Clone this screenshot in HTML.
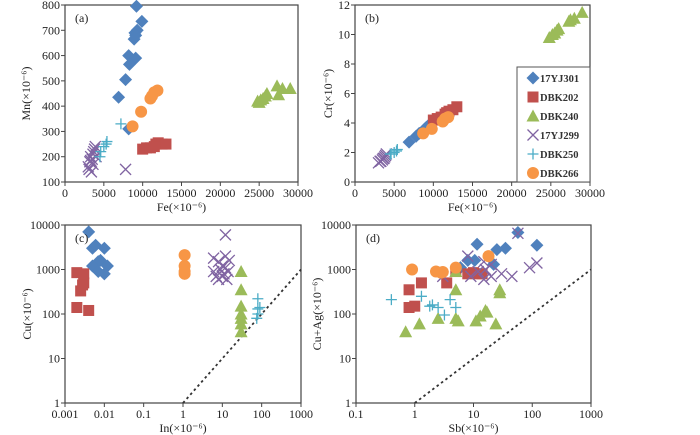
<!DOCTYPE html>
<html><head><meta charset="utf-8">
<style>
body{margin:0;background:#fff;}
svg{display:block;font-family:"Liberation Serif",serif;}
</style></head>
<body>
<svg id="c" width="700" height="435" viewBox="0 0 700 435"></svg>
<script>
// ---------- data ----------
const seriesNames = ["17YJ301","DBK202","DBK240","17YJ299","DBK250","DBK266"];
const seriesColors = ["#4f81bd","#c0504d","#9bbb59","#8064a2","#4bacc6","#f79646"];
const seriesShapes = ["diamond","square","triangle","x","plus","circle"];

// panel a: Fe vs Mn
const aFe = [
 [9200,9900,9300,9000,9100,8900,8200,9100,8300,7800,6900,8200],
 [10000,10500,11000,11700,12000,12500,13000,11500],
 [24800,25200,25500,25800,26000,27300,27500,28000,29000,25000],
 [3000,3200,3300,3500,3600,3700,3800,3900,4000,3400,3100,3600,3300,7800],
 [7200,5400,5000,4600,4500,5300],
 [8700,9800,11200,11500,11900,11000]];
const aMn = [
 [795,735,700,690,680,665,600,590,565,505,435,310],
 [230,235,235,250,255,250,250,240],
 [420,425,430,440,450,480,445,470,470,415],
 [160,180,200,190,210,220,230,240,200,140,150,170,185,150],
 [330,260,240,220,200,250],
 [320,378,440,455,462,430]];

// panel b: Fe vs Cr
const bFe = [
 [6900,7800,8200,8900,9100,9300],
 [10000,10500,11000,11700,12000,12500,13000,11500],
 [24800,25200,25500,25800,26000,27300,27500,28000,29000],
 [3000,3200,3300,3500,3600,3700,3800,3900,4000],
 [4500,4600,5000,5300,5400],
 [8700,9800,11200,11500,11900]];
const bCr = [
 [2.7,3.1,3.3,3.6,3.7,3.8],
 [4.2,4.3,4.4,4.7,4.8,4.9,5.1,4.6],
 [9.8,10.0,10.1,10.3,10.4,10.9,11.0,11.1,11.5],
 [1.3,1.4,1.4,1.5,1.6,1.6,1.7,1.8,1.9],
 [1.9,1.9,2.0,2.1,2.2],
 [3.3,3.6,4.1,4.3,4.4]];

// panel c: In vs Cu
const cIn = [
 [0.004,0.005,0.006,0.01,0.008,0.007,0.005,0.012,0.01,0.007],
 [0.002,0.003,0.003,0.0025,0.002,0.004,0.0028],
 [30,30,30,30,30,30,30],
 [12,6,8,10,12,14,7,9,11,13,8,10,12,15,6],
 [80,80,80,75,90],
 [1.1,1.1,1.1,1.1]];
const cCu = [
 [7000,3000,3500,3000,1600,1500,1200,1200,800,900],
 [850,800,500,330,140,120,450],
 [900,350,150,100,80,60,40],
 [6000,1800,1500,1200,2000,900,700,1000,800,600,600,700,1100,1600,900],
 [220,130,100,80,140],
 [2100,1200,800,900]];

// panel d: Sb vs Cu+Ag
const dSb = [
 [11.5,25,35,57,120,8,10.5,22,6],
 [0.8,1.3,3.5,0.8,1,8,10,12,14,5],
 [0.7,1.2,2.5,5,5.5,5,11,13,16,17,24,28,28,5],
 [57,8,15,20,90,120,30,45,3,15,20,12,16,9],
 [0.4,1.3,1.8,2,2.5,3.2,4,5],
 [0.9,2.3,2.8,3,5,18]];
const dCuAg = [
 [3700,2800,3000,6800,3500,1600,1600,1300,1100],
 [350,500,500,140,150,800,850,800,800,900],
 [40,60,80,80,70,350,70,90,120,110,60,350,300,900],
 [6500,2000,1500,1300,1100,1400,800,700,700,600,700,900,1000,700],
 [210,250,150,160,140,95,210,140],
 [1000,900,850,880,1100,2000]];

const aXTicks=[0,5000,10000,15000,20000,25000,30000];
const aYTicks=[100,200,300,400,500,600,700,800];
const bYTicks=[0,2,4,6,8,10,12];
const cXTicks=[0.001,0.01,0.1,1,10,100,1000];
const dXTicks=[0.1,1,10,100,1000];
const logYTicks=[1,10,100,1000,10000];

// ---------- drawing ----------
const svg=document.getElementById('c');
const NS="http://www.w3.org/2000/svg";
function mk(tag,attrs,parent){const e=document.createElementNS(NS,tag);for(const k in attrs)e.setAttribute(k,attrs[k]);(parent||svg).appendChild(e);return e;}
function linScale(d0,d1,r0,r1){return v=>r0+(v-d0)/(d1-d0)*(r1-r0);}
function logScale(d0,d1,r0,r1){return v=>r0+(Math.log10(v)-Math.log10(d0))/(Math.log10(d1)-Math.log10(d0))*(r1-r0);}
function marker(g,shape,x,y,col){
  let e;
  if(shape==="diamond")e=mk('polygon',{points:`${x},${y-6.5} ${x+6.5},${y} ${x},${y+6.5} ${x-6.5},${y}`,fill:col},g);
  else if(shape==="square")e=mk('rect',{x:x-5.5,y:y-5.5,width:11,height:11,fill:col},g);
  else if(shape==="triangle")e=mk('polygon',{points:`${x},${y-6.5} ${x+6.5},${y+5.5} ${x-6.5},${y+5.5}`,fill:col},g);
  else if(shape==="circle")e=mk('circle',{cx:x,cy:y,r:6,fill:col},g);
  else if(shape==="x")e=mk('path',{d:`M${x-5.5},${y-5.5}L${x+5.5},${y+5.5}M${x-5.5},${y+5.5}L${x+5.5},${y-5.5}`,stroke:col,'stroke-width':1.3},g);
  else e=mk('path',{d:`M${x-5.5},${y}L${x+5.5},${y}M${x},${y-5.5}L${x},${y+5.5}`,stroke:col,'stroke-width':1.3},g);
  return e;
}
function panel(opt){
  const g=mk('g',{});
  
  
  const {L,R,T,B}=opt;
  const bg=mk('rect',{x:L,y:T,width:R-L,height:B-T,fill:'#fff',stroke:'#444','stroke-width':1.2},g);
  
  
  const sx=opt.xs,sy=opt.ys;
  opt.xt.forEach(v=>{const x=sx(v);
    mk('line',{x1:x,y1:B,x2:x,y2:B+4,stroke:'#444'},g);
    const t=mk('text',{x:x,y:B+15,'text-anchor':'middle','font-size':12,fill:'#222'},g);t.textContent=v;
    
    });
  opt.yt.forEach(v=>{const y=sy(v);
    mk('line',{x1:L-4,y1:y,x2:L,y2:y,stroke:'#444'},g);
    const t=mk('text',{x:L-5,y:y+4,'text-anchor':'end','font-size':12,fill:'#222'},g);t.textContent=v;
    
    });
  if(opt.diag){const a=mk('line',{x1:sx(opt.diag[0]),y1:sy(opt.diag[0]),x2:sx(opt.diag[1]),y2:sy(opt.diag[1]),stroke:'#333','stroke-width':1.8,'stroke-dasharray':'2.5,3'},g);
    
    }
  opt.X.forEach((xs,i)=>{
    const sg=mk('g',{},g);
    
    
    xs.forEach((xv,j)=>{const m=marker(sg,seriesShapes[i],sx(xv),sy(opt.Y[i][j]),seriesColors[i]);
      
      });
  });
  const pl=mk('text',{x:L+10,y:T+17,'font-size':12,fill:'#222'},g);pl.textContent=opt.label;
  
  
  const xt=mk('text',{x:(L+R)/2,y:B+29,'text-anchor':'middle','font-size':12,fill:'#222'},g);xt.textContent=opt.xtitle;
  
  
  const yx=opt.ytx,yy=(T+B)/2;
  const yt=mk('text',{x:yx,y:yy,'text-anchor':'middle','font-size':12,fill:'#222',transform:`rotate(-90 ${yx} ${yy})`},g);yt.textContent=opt.ytitle;
  
  
  return g;
}
panel({name:'panel-a',L:65,R:298,T:5,B:182,xs:linScale(0,30000,65,298),ys:linScale(100,800,182,5),xt:aXTicks,yt:aYTicks,X:aFe,Y:aMn,label:'(a)',xtitle:'Fe(×10⁻⁶)',ytitle:'Mn(×10⁻⁶)',ytx:30});
panel({name:'panel-b',L:355,R:590,T:5,B:182,xs:linScale(0,30000,355,590),ys:linScale(0,12,182,5),xt:aXTicks,yt:bYTicks,X:bFe,Y:bCr,label:'(b)',xtitle:'Fe(×10⁻⁶)',ytitle:'Cr(×10⁻⁶)',ytx:332});
panel({name:'panel-c',L:65,R:301,T:225,B:403,xs:logScale(0.001,1000,65,301),ys:logScale(1,10000,403,225),xt:cXTicks,yt:logYTicks,X:cIn,Y:cCu,label:'(c)',xtitle:'In(×10⁻⁶)',ytitle:'Cu(×10⁻⁶)',ytx:31,diag:[1,1000]});
panel({name:'panel-d',L:356,R:591,T:225,B:403,xs:logScale(0.1,1000,356,591),ys:logScale(1,10000,403,225),xt:dXTicks,yt:logYTicks,X:dSb,Y:dCuAg,label:'(d)',xtitle:'Sb(×10⁻⁶)',ytitle:'Cu+Ag(×10⁻⁶)',ytx:321,diag:[1,1000]});

// legend
const lg=mk('g',{});


mk('rect',{x:517,y:67,width:73,height:115,fill:'#fff',stroke:'#555','stroke-width':1},lg);
seriesNames.forEach((n,i)=>{
  const y=78+i*19;
  const e=mk('g',{},lg);
  
  
  marker(e,seriesShapes[i],533,y,seriesColors[i]);
  const t=mk('text',{x:540,y:y+4,'font-size':10.5,'font-weight':'bold',fill:'#333'},e);t.textContent=n;
});
</script>
</body></html>
